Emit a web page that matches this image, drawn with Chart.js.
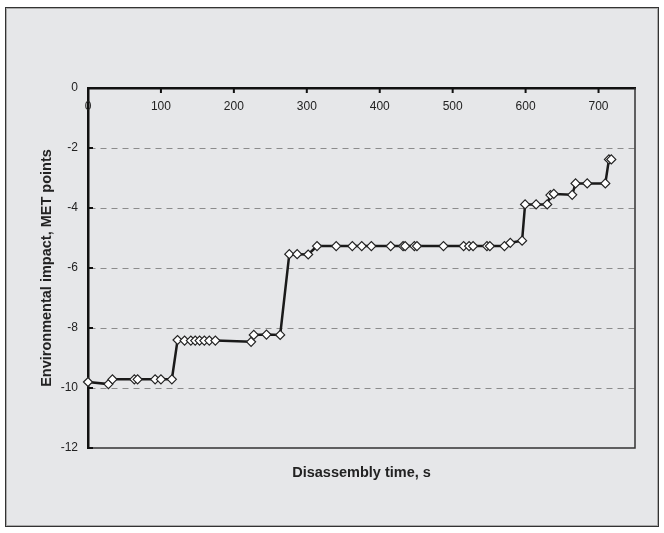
<!DOCTYPE html>
<html>
<head>
<meta charset="utf-8">
<script src="https://cdn.jsdelivr.net/npm/chart.js@4.4.1/dist/chart.umd.min.js"></script>
<style>
    html, body { margin: 0; padding: 0; background: #fff; }
    #frame {
        position: absolute; left: 5px; top: 7px; width: 652px; height: 518px;
        background: #e6e7e9; border: 1px solid #333; box-shadow: inset 0 0 0 1px #aaa;
    }
    #chart { position: absolute; left: 0; top: 0; }
</style>
</head>
<body>
<div id="frame"></div>
<canvas id="chart" width="664" height="533"></canvas>
<script>
    // values
    const disassemblyTime = [0, 28, 33.5, 63.5, 68, 92, 100, 115,
        122.8, 132.4, 141, 147, 153, 159.5, 166.3, 174.6, 223.6, 227.3, 244.7, 263.5,
        276, 286.8, 301.9, 314, 340.3, 362.4, 375.3, 388.5, 415, 432, 434.8, 447.5, 451,
        487.4, 515, 522.5, 528, 547, 551, 571, 579, 595.2,
        599.3, 614.4, 629.6, 634, 638.7, 663.9, 668.5, 684.5, 709.3, 714.3, 717.5];
    const envImpact = [-9.8, -9.87, -9.71, -9.71, -9.71, -9.71, -9.71, -9.71,
        -8.4, -8.42, -8.42, -8.42, -8.42, -8.42, -8.42, -8.42, -8.46, -8.23, -8.22, -8.23,
        -5.54, -5.54, -5.55, -5.27, -5.27, -5.27, -5.27, -5.27, -5.27, -5.27, -5.27, -5.27, -5.27,
        -5.27, -5.27, -5.27, -5.27, -5.27, -5.27, -5.27, -5.16, -5.09,
        -3.88, -3.88, -3.88, -3.57, -3.53, -3.56, -3.18, -3.18, -3.18, -2.38, -2.38];
    const xTickValues = [0, 100, 200, 300, 400, 500, 600, 700];
    const gridValues = [-2, -4, -6, -8, -10];

    const FONT = '"Liberation Sans", Arial, sans-serif';

    const axisExtras = {
        id: 'axisExtras',
        afterDraw(chart) {
            const ctx = chart.ctx;
            const x = chart.scales.x, y = chart.scales.y;
            const area = chart.chartArea;
            ctx.save();
            // right and bottom frame of the plot
            ctx.strokeStyle = '#333';
            ctx.lineWidth = 1.5;
            ctx.beginPath();
            ctx.moveTo(area.right, area.top);
            ctx.lineTo(area.right, area.bottom);
            ctx.lineTo(area.left, area.bottom);
            ctx.stroke();
            // inward tick marks
            ctx.strokeStyle = '#111';
            ctx.lineWidth = 2;
            ctx.beginPath();
            x.ticks.forEach(t => {
                const px = x.getPixelForValue(t.value);
                ctx.moveTo(px, area.top);
                ctx.lineTo(px, area.top + 5);
            });
            y.ticks.forEach(t => {
                const py = y.getPixelForValue(t.value);
                ctx.moveTo(area.left, py);
                ctx.lineTo(area.left + 5, py);
            });
            ctx.stroke();
            // x tick labels sit under the top axis, inside the plot
            ctx.fillStyle = '#222';
            ctx.font = '12px ' + FONT;
            ctx.textAlign = 'center';
            ctx.textBaseline = 'middle';
            x.ticks.forEach(t => {
                ctx.fillText(String(t.value), x.getPixelForValue(t.value), area.top + 19);
            });
            // x axis title at the bottom
            ctx.font = 'bold 14.5px ' + FONT;
            ctx.fillText('Disassembly time, s', (area.left + area.right) / 2, 473);
            ctx.restore();
        }
    };

    new Chart(document.getElementById('chart'), {
        type: 'line',
        data: {
            datasets: [{
                data: disassemblyTime.map((t, i) => ({x: t, y: envImpact[i]})),
                borderColor: '#1a1a1a',
                borderWidth: 2.5,
                tension: 0,
                pointStyle: 'rectRot',
                pointRadius: 4.5,
                pointBackgroundColor: '#fff',
                pointBorderColor: '#222',
                pointBorderWidth: 1.2,
                clip: false
            }]
        },
        options: {
            responsive: false,
            animation: false,
            layout: {
                padding: {left: 0, top: 88, right: 29, bottom: 85}
            },
            plugins: {
                legend: {display: false},
                tooltip: {enabled: false}
            },
            scales: {
                x: {
                    type: 'linear',
                    position: 'top',
                    min: 0,
                    max: 750,
                    afterBuildTicks: function (scale) {
                        scale.ticks = xTickValues.map(v => ({value: v}));
                    },
                    afterFit: function (scale) {
                        scale.height = 0;
                    },
                    ticks: {display: false},
                    grid: {display: false},
                    border: {display: true, color: '#111', width: 2.5}
                },
                y: {
                    type: 'linear',
                    min: -12,
                    max: 0,
                    afterFit: function (scale) {
                        scale.width = 88;
                    },
                    ticks: {
                        stepSize: 2,
                        padding: 10,
                        color: '#222',
                        font: {family: FONT, size: 12}
                    },
                    grid: {
                        drawTicks: false,
                        lineWidth: 1,
                        color: function (context) {
                            return gridValues.includes(context.tick && context.tick.value) ? '#8c8c8c' : 'rgba(0,0,0,0)';
                        }
                    },
                    border: {display: true, color: '#111', width: 2.5, dash: [6, 5]},
                    title: {
                        display: true,
                        text: 'Environmental impact, MET points',
                        color: '#222',
                        font: {family: FONT, size: 14.5, weight: 'bold'},
                        padding: {top: 38, bottom: 0}
                    }
                }
            }
        },
        plugins: [axisExtras]
    });
</script>
</body>
</html>
